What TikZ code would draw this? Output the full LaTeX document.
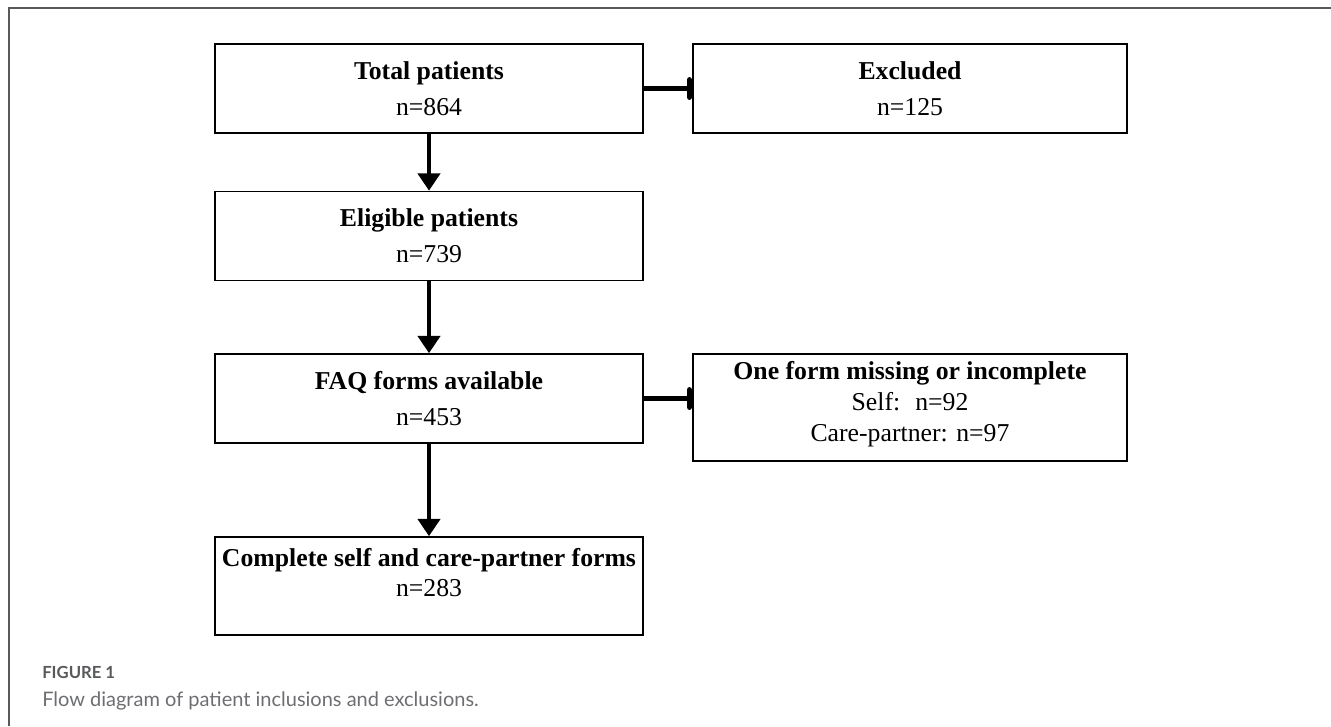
\documentclass[tikz,border=0pt]{standalone}
\usepackage{fontspec}
\setmainfont{Liberation Serif}
\newfontfamily\capfont{Lato}
\usetikzlibrary{arrows.meta}

\definecolor{capgray}{HTML}{6D6E71}
\definecolor{figgray}{HTML}{58595B}

\begin{document}
\begin{tikzpicture}[x=0.75pt,y=-0.75pt,
  box/.style={draw, line width=1.2pt, minimum width=321pt, minimum height=66.75pt,
    align=center, inner sep=0pt, font=\fontsize{19.3}{27}\selectfont},
  sidebox/.style={box, minimum width=325.5pt},
  boxtext/.style={align=center, inner sep=0pt, font=\fontsize{19.3}{23}\selectfont},
  down/.style={line width=3.2pt, -{Triangle[width=16.5pt,length=13pt]}},
  side/.style={line width=3.2pt, -{Bar[width=13pt,line width=4.2pt,round]}},
  frame/.style={draw=black!65, line width=1.5pt}]

\useasboundingbox (0,0) rectangle (1331,726);

%cornice della figura (solo lati alto e sinistro)
\draw[frame] (9,726) -- (9,8) -- (1331,8);

%riquadri della colonna principale
\node[box] (total) at (429,88.5) {\textbf{Total patients}\\n=864};
\node[box] (elig) at (429,236) {\textbf{Eligible patients}\\n=739};
\node[box] (faq) at (429,398.5) {\textbf{FAQ forms available}\\n=453};
\node[box, minimum height=73.5pt] (compl) at (429,586) {};
\node[boxtext] (compltext) at ([yshift=10pt]compl.center)
  {\textbf{Complete self and care-partner forms}\\n=283};

%riquadri delle esclusioni
\node[sidebox, minimum height=80.25pt] (miss) at (910,407.5) {};
\node[boxtext] (misstext) at ([yshift=2.5pt]miss.center)
  {\textbf{One form missing or incomplete}\\Self:~ n=92\\Care-partner: n=97};
\node[sidebox] (excl) at (910,88.5) {\textbf{Excluded}\\n=125};

%frecce verso il basso
\draw[down] (total.south) -- (elig.north);
\draw[down] (elig.south) -- (faq.north);
\draw[down] (faq.south) -- (compl.north);

%frecce laterali
\draw[side] (total.east) -- (excl.west);
\draw[side] (faq.east) -- (faq.east -| miss.west);

%didascalia
\node[anchor=west, inner sep=0pt, text=figgray, font=\capfont\bfseries\fontsize{12.5}{15}\selectfont] (fignum) at (42,672) {FIGURE 1};
\node[anchor=west, inner sep=0pt, text=capgray, font=\capfont\fontsize{15}{18}\selectfont] (caption) at (42,701) {Flow diagram of patient inclusions and exclusions.};

\end{tikzpicture}
\end{document}
